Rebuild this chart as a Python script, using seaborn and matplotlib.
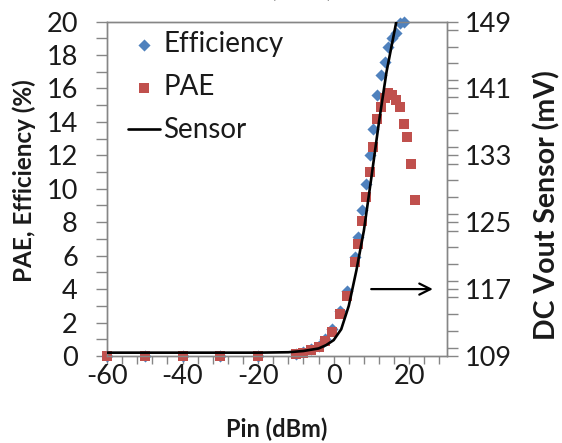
import matplotlib
matplotlib.use("Agg")
import matplotlib.pyplot as plt
from matplotlib.ticker import MultipleLocator, FixedLocator
import seaborn as sns
import pandas as pd

# Input power sweep (dBm) and measured efficiencies (%)
pin_dbm = [-60, -50, -40, -30, -20, -10, -8.2, -6.1, -4, -2.2, -0.4, 1.7, 3.5,
           5.6, 6.5, 7.5, 8.5, 9.5, 10.5, 11.5, 12.5, 13.5, 14.5, 15.5, 16.5,
           17.5, 18.5, 19.5, 20.5, 21.5]
pae_pct = [0, 0, 0, 0, 0, 0.1, 0.2, 0.36, 0.56, 0.9, 1.45, 2.5, 3.6,
           5.6, 6.7, 8.1, 9.5, 11.0, 12.5, 14.2, 14.9, 15.4, 15.7, 15.6, 15.3,
           14.9, 13.85, 13.1, 11.5, 9.35]
eff_pin_dbm = pin_dbm[:27]
efficiency_pct = [0, 0, 0, 0, 0, 0.12, 0.22, 0.4, 0.62, 1.0, 1.6, 2.7, 3.9,
                  5.9, 7.1, 8.7, 10.3, 12.0, 13.6, 15.6, 16.8, 17.6, 18.5, 19.0, 19.3,
                  19.9, 20.0]

# Power sensor DC output voltage (mV)
sensor_pin_dbm = [-60, -20, -12, -8, -4, -2, 0, 2, 4, 6, 8, 10, 12, 14, 16.6]
sensor_mv = [109.4, 109.4, 109.45, 109.6, 109.9, 110.3, 110.9, 112.2, 115.0,
             119.2, 124.0, 130.4, 137.0, 143.0, 149.0]

x_ticks = [-60, -40, -20, 0, 20]
left_ticks = list(range(0, 21, 2))
right_ticks = [109, 117, 125, 133, 141, 149]

eff_df = pd.DataFrame({"pin": eff_pin_dbm, "val": efficiency_pct})
pae_df = pd.DataFrame({"pin": pin_dbm, "val": pae_pct})
sensor_df = pd.DataFrame({"pin": sensor_pin_dbm, "mv": sensor_mv})

sns.set_theme(style="white")
plt.rcParams["font.family"] = ["Lato", "DejaVu Sans"]
plt.rcParams["axes.unicode_minus"] = False

BLUE = "#4F81BD"
RED = "#C0504D"
GRID_GREY = "#868686"
TXT = "#1a1a1a"

fig = plt.figure(figsize=(5.62, 4.43), dpi=100)
ax = fig.add_axes([107 / 562, 1 - 356 / 443, 340 / 562, 334.5 / 443])
ax2 = ax.twinx()

sns.scatterplot(data=eff_df, x="pin", y="val", ax=ax, marker="D", s=38,
                color=BLUE, edgecolor=BLUE, linewidth=0, label="Efficiency",
                clip_on=False, zorder=3)
sns.scatterplot(data=pae_df, x="pin", y="val", ax=ax, marker="s", s=48,
                color=RED, edgecolor=RED, linewidth=0, label="PAE",
                clip_on=False, zorder=4)
sns.lineplot(data=sensor_df, x="pin", y="mv", ax=ax2, color="black",
             linewidth=1.9, label="Sensor", zorder=5)

ax.set_xlim(-60, 30)
ax.set_ylim(0, 20)
ax2.set_ylim(109, 149)

ax.xaxis.set_major_locator(FixedLocator(x_ticks))
ax.xaxis.set_minor_locator(MultipleLocator(4))
ax.yaxis.set_major_locator(FixedLocator(left_ticks))
ax.yaxis.set_minor_locator(MultipleLocator(1))
ax2.yaxis.set_major_locator(FixedLocator(right_ticks))
ax2.yaxis.set_minor_locator(MultipleLocator(2))

for a in (ax, ax2):
    for s in a.spines.values():
        s.set_color(GRID_GREY)
        s.set_linewidth(1.0)
    a.set_facecolor("none")

ax.tick_params(axis="both", which="both", direction="out", color=GRID_GREY,
               width=1.0, labelcolor=TXT, labelsize=19.5)
ax.tick_params(axis="x", which="both", length=6, pad=0, bottom=True)
ax.tick_params(axis="y", which="both", length=8, pad=13, left=True)
ax2.tick_params(axis="y", which="both", direction="out", color=GRID_GREY,
                width=1.0, length=8, pad=5, labelsize=19.5, labelcolor=TXT,
                right=True)

ax.set_xlabel("Pin (dBm)", fontsize=17, fontweight="bold", color=TXT,
              labelpad=20)
ax.set_ylabel("PAE, Efficiency (%)", fontsize=17.5, fontweight="bold", color=TXT)
ax2.set_ylabel("DC Vout Sensor (mV)", fontsize=20.5, fontweight="bold", color=TXT)
ax.yaxis.set_label_coords(-0.208, 0.525)
ax2.yaxis.set_label_coords(1.255, 0.45)

# Arrow pointing the sensor curve to the right-hand axis
ax2.annotate("", xy=(27, 117), xytext=(9.2, 117),
             arrowprops=dict(arrowstyle="->", color="black", lw=1.6,
                             mutation_scale=20))

# Combined legend
h1, l1 = ax.get_legend_handles_labels()
h2, l2 = ax2.get_legend_handles_labels()
if ax.get_legend():
    ax.get_legend().remove()
leg = ax2.legend(h1 + h2, l1 + l2, loc="upper left",
                 bbox_to_anchor=(0.062, 0.972), frameon=False,
                 borderaxespad=0, borderpad=0, fontsize=20,
                 handlelength=1.15, handletextpad=0.12, labelspacing=0.62,
                 markerscale=1.0)
for t in leg.get_texts():
    t.set_color(TXT)

# Heading above the plot, cut off by the top edge
fig.text(302 / 562, 1 + 3 / 443, "(dBm)", ha="center", va="baseline",
         fontsize=18, color=TXT)

fig.savefig("out.png", dpi=100)
